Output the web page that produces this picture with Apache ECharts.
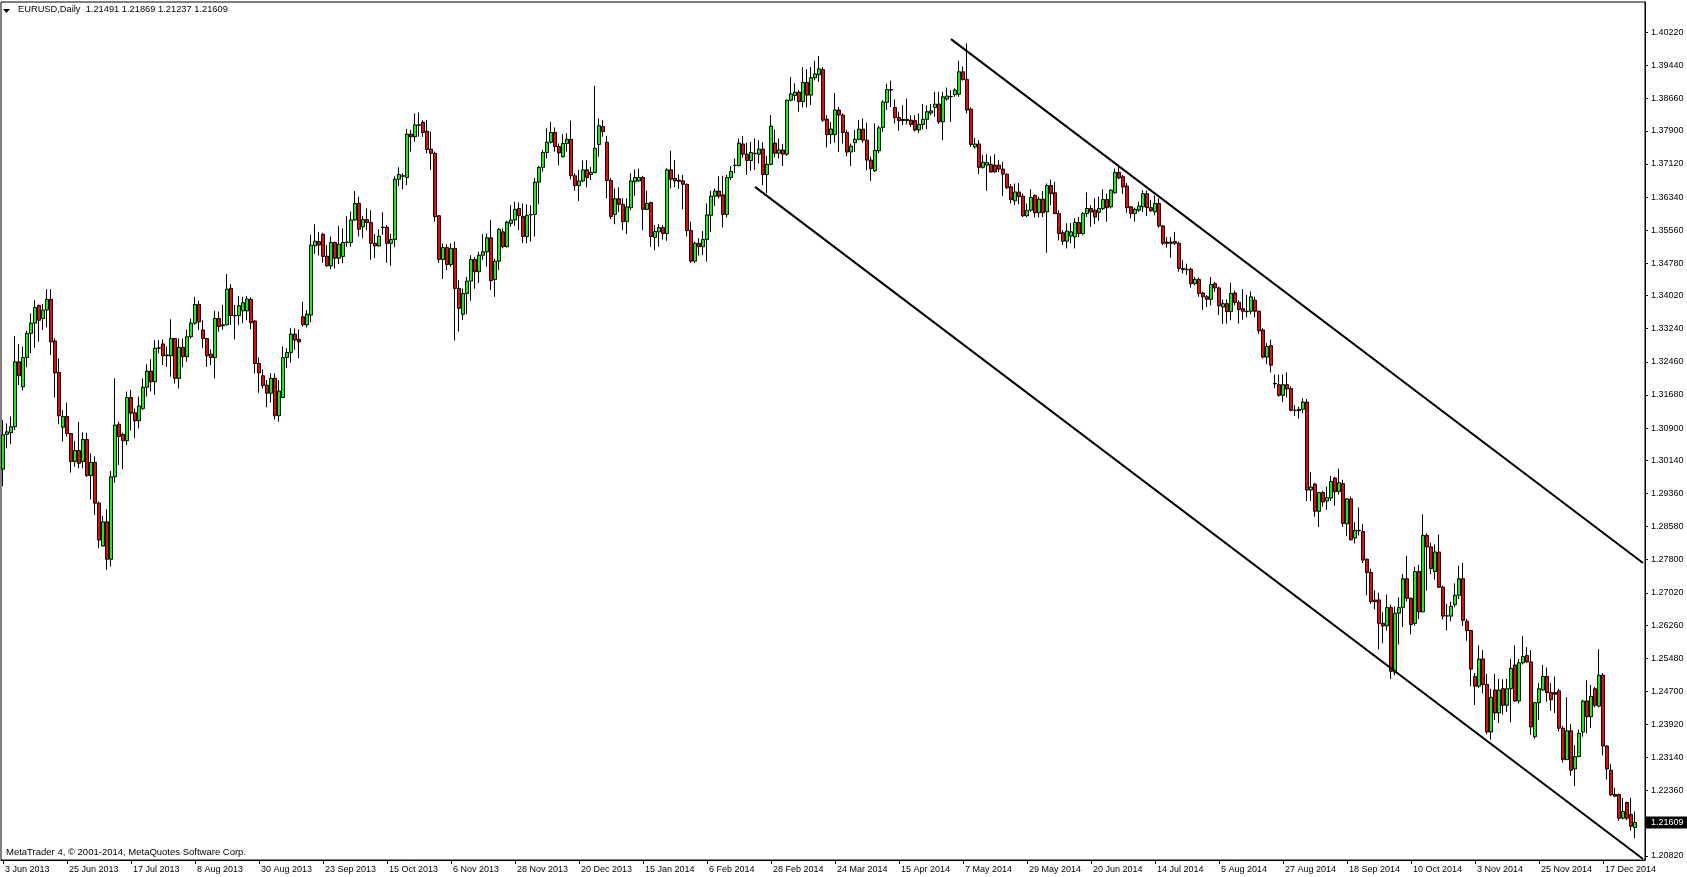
<!DOCTYPE html>
<html><head><meta charset="utf-8">
<script src="https://cdn.jsdelivr.net/npm/echarts@6/dist/echarts.min.js"></script>
<style>html,body{margin:0;padding:0;background:#fff;overflow:hidden}#c{width:1687px;height:877px}</style>
</head><body><div id="c"></div>
<script>
const symbolName = 'EURUSD,Daily';
const footerText = 'MetaTrader 4, \u00A9 2001-2014, MetaQuotes Software Corp.';
const xTickLabels = ['3 Jun 2013','25 Jun 2013','17 Jul 2013','8 Aug 2013','30 Aug 2013','23 Sep 2013','15 Oct 2013','6 Nov 2013','28 Nov 2013','20 Dec 2013','15 Jan 2014','6 Feb 2014','28 Feb 2014','24 Mar 2014','15 Apr 2014','7 May 2014','29 May 2014','20 Jun 2014','14 Jul 2014','5 Aug 2014','27 Aug 2014','18 Sep 2014','10 Oct 2014','3 Nov 2014','25 Nov 2014','17 Dec 2014'];
const barsPerLabel = 16;
const yTickValues = [1.40220,1.39440,1.38660,1.37900,1.37120,1.36340,1.35560,1.34780,1.34020,1.33240,1.32460,1.31680,1.30900,1.30140,1.29360,1.28580,1.27800,1.27020,1.26260,1.25480,1.24700,1.23920,1.23140,1.22360,1.20820];

const openP = [1.2993,1.3075,1.3079,1.3093,1.3246,1.3187,1.3256,1.3313,1.3337,1.3379,
1.3348,1.3368,1.3393,1.3295,1.3221,1.3092,1.3117,1.3077,1.3011,1.3037,
1.3011,1.3063,1.2978,1.3009,1.2913,1.2812,1.2869,1.2781,1.2975,1.3099,
1.3075,1.3060,1.3162,1.3126,1.3107,1.3136,1.3186,1.3224,1.3199,1.3278,
1.3288,1.3260,1.3260,1.3301,1.3207,1.3280,1.3258,1.3305,1.3337,1.3381,
1.3321,1.3301,1.3264,1.3256,1.3348,1.3331,1.3333,1.3419,1.3355,1.3355,
1.3366,1.3366,1.3393,1.3342,1.3242,1.3213,1.3191,1.3172,1.3207,1.3119,
1.3162,1.3256,1.3268,1.3311,1.3299,1.3352,1.3333,1.3356,1.3519,1.3529,
1.3546,1.3495,1.3472,1.3527,1.3490,1.3494,1.3527,1.3527,1.3580,1.3619,
1.3564,1.3581,1.3574,1.3525,1.3519,1.3562,1.3563,1.3525,1.3534,1.3676,
1.3684,1.3680,1.3782,1.3776,1.3804,1.3810,1.3789,1.3747,1.3737,1.3590,
1.3487,1.3515,1.3475,1.3513,1.3419,1.3358,1.3407,1.3436,1.3487,1.3458,
1.3497,1.3505,1.3538,1.3440,1.3483,1.3552,1.3517,1.3572,1.3580,1.3607,
1.3588,1.3541,1.3592,1.3593,1.3669,1.3704,1.3739,1.3763,1.3786,1.3753,
1.3729,1.3760,1.3770,1.3684,1.3661,1.3672,1.3698,1.3687,1.3692,1.3758,
1.3800,1.3763,1.3673,1.3593,1.3630,1.3617,1.3576,1.3609,1.3670,1.3672,
1.3680,1.3605,1.3621,1.3539,1.3552,1.3562,1.3548,1.3698,1.3678,1.3674,
1.3672,1.3664,1.3555,1.3483,1.3525,1.3517,1.3534,1.3591,1.3636,1.3648,
1.3639,1.3593,1.3680,1.3708,1.3708,1.3759,1.3735,1.3720,1.3737,1.3735,
1.3747,1.3687,1.3711,1.3761,1.3737,1.3745,1.3735,1.3862,1.3873,1.3881,
1.3859,1.3904,1.3874,1.3915,1.3922,1.3934,1.3817,1.3781,1.3781,1.3839,
1.3827,1.3786,1.3740,1.3762,1.3770,1.3794,1.3768,1.3721,1.3696,1.3743,
1.3798,1.3857,1.3887,1.3845,1.3821,1.3817,1.3817,1.3815,1.3814,1.3792,
1.3805,1.3817,1.3832,1.3845,1.3853,1.3811,1.3865,1.3871,1.3875,1.3876,
1.3929,1.3911,1.3841,1.3752,1.3759,1.3704,1.3709,1.3711,1.3709,1.3709,
1.3700,1.3688,1.3658,1.3625,1.3646,1.3636,1.3590,1.3603,1.3638,1.3597,
1.3629,1.3599,1.3661,1.3644,1.3595,1.3550,1.3530,1.3542,1.3540,1.3574,
1.3548,1.3595,1.3607,1.3603,1.3598,1.3607,1.3628,1.3611,1.3644,1.3692,
1.3682,1.3660,1.3611,1.3595,1.3603,1.3611,1.3642,1.3609,1.3599,1.3619,
1.3566,1.3528,1.3528,1.3529,1.3525,1.3466,1.3464,1.3464,1.3430,1.3440,
1.3408,1.3399,1.3393,1.3430,1.3420,1.3375,1.3383,1.3364,1.3408,1.3386,
1.3371,1.3365,1.3365,1.3391,1.3365,1.3321,1.3257,1.3284,1.3195,1.3192,
1.3167,1.3192,1.3183,1.3132,1.3131,1.3134,1.3151,1.2944,1.2958,1.2894,
1.2938,1.2918,1.2925,1.2972,1.2940,1.2959,1.2864,1.2923,1.2831,1.2849,
1.2846,1.2781,1.2750,1.2685,1.2685,1.2630,1.2624,1.2667,1.2515,1.2654,
1.2667,1.2735,1.2689,1.2630,1.2752,1.2657,1.2837,1.2810,1.2752,1.2798,
1.2715,1.2647,1.2647,1.2674,1.2696,1.2735,1.2635,1.2613,1.2505,1.2482,
1.2546,1.2486,1.2374,1.2473,1.2419,1.2476,1.2437,1.2476,1.2532,1.2447,
1.2537,1.2554,1.2539,1.2363,1.2443,1.2473,1.2505,1.2467,1.2467,1.2471,
1.2383,1.2309,1.2377,1.2287,1.2316,1.2374,1.2447,1.2410,1.2476,1.2435,
1.2508,1.2341,1.2284,1.2227,1.2227,1.2171,1.2208,1.2180,1.21491];

const highP = [1.3109,1.3101,1.3117,1.3307,1.3288,1.3282,1.3319,1.3360,1.3391,1.3380,
1.3382,1.3417,1.3417,1.3301,1.3254,1.3132,1.3150,1.3078,1.3060,1.3104,
1.3080,1.3079,1.3030,1.3023,1.2917,1.2883,1.2899,1.2989,1.3207,1.3105,
1.3079,1.3176,1.3180,1.3136,1.3164,1.3207,1.3240,1.3252,1.3297,1.3297,
1.3299,1.3282,1.3346,1.3302,1.3301,1.3301,1.3322,1.3348,1.3399,1.3390,
1.3344,1.3302,1.3275,1.3366,1.3364,1.3380,1.3453,1.3429,1.3380,1.3401,
1.3399,1.3401,1.3398,1.3344,1.3256,1.3228,1.3203,1.3219,1.3219,1.3203,
1.3282,1.3278,1.3325,1.3325,1.3322,1.3387,1.3368,1.3545,1.3570,1.3551,
1.3550,1.3521,1.3541,1.3529,1.3566,1.3560,1.3589,1.3600,1.3648,1.3635,
1.3589,1.3607,1.3603,1.3547,1.3558,1.3598,1.3568,1.3547,1.3683,1.3704,
1.3690,1.3794,1.3792,1.3831,1.3833,1.3815,1.3815,1.3788,1.3741,1.3592,
1.3525,1.3523,1.3525,1.3529,1.3438,1.3419,1.3446,1.3497,1.3493,1.3505,
1.3547,1.3548,1.3580,1.3489,1.3561,1.3560,1.3578,1.3615,1.3623,1.3621,
1.3619,1.3617,1.3615,1.3679,1.3707,1.3745,1.3796,1.3811,1.3798,1.3760,
1.3782,1.3784,1.3814,1.3690,1.3698,1.3720,1.3721,1.3705,1.3896,1.3819,
1.3815,1.3778,1.3679,1.3654,1.3657,1.3631,1.3631,1.3690,1.3699,1.3701,
1.3684,1.3649,1.3623,1.3568,1.3570,1.3568,1.3702,1.3743,1.3721,1.3688,
1.3686,1.3666,1.3576,1.3529,1.3537,1.3554,1.3619,1.3649,1.3654,1.3683,
1.3684,1.3686,1.3707,1.3725,1.3772,1.3778,1.3762,1.3764,1.3772,1.3768,
1.3763,1.3731,1.3827,1.3793,1.3772,1.3759,1.3864,1.3917,1.3902,1.3886,
1.3940,1.3935,1.3940,1.3955,1.3966,1.3940,1.3827,1.3811,1.3879,1.3846,
1.3831,1.3792,1.3760,1.3792,1.3815,1.3819,1.3809,1.3729,1.3807,1.3802,
1.3862,1.3901,1.3908,1.3864,1.3835,1.3850,1.3866,1.3827,1.3827,1.3831,
1.3853,1.3850,1.3853,1.3882,1.3882,1.3882,1.3892,1.3886,1.3890,1.3955,
1.3942,1.3996,1.3845,1.3773,1.3768,1.3733,1.3735,1.3730,1.3735,1.3721,
1.3717,1.3689,1.3664,1.3666,1.3667,1.3642,1.3619,1.3652,1.3640,1.3635,
1.3648,1.3666,1.3675,1.3670,1.3603,1.3556,1.3572,1.3573,1.3584,1.3587,
1.3599,1.3645,1.3615,1.3631,1.3635,1.3652,1.3642,1.3652,1.3701,1.3705,
1.3686,1.3667,1.3613,1.3609,1.3623,1.3650,1.3649,1.3627,1.3638,1.3631,
1.3568,1.3540,1.3540,1.3552,1.3529,1.3485,1.3477,1.3468,1.3446,1.3444,
1.3411,1.3403,1.3446,1.3434,1.3423,1.3393,1.3393,1.3432,1.3414,1.3391,
1.3417,1.3404,1.3412,1.3399,1.3366,1.3325,1.3290,1.3298,1.3216,1.3216,
1.3216,1.3221,1.3188,1.3144,1.3140,1.3160,1.3158,1.2986,1.2961,1.2940,
1.2942,1.2952,1.2977,1.2975,1.2994,1.2968,1.2925,1.2929,1.2868,1.2903,
1.2864,1.2783,1.2759,1.2708,1.2702,1.2656,1.2698,1.2674,1.2670,1.2691,
1.2746,1.2789,1.2691,1.2763,1.2768,1.2887,1.2842,1.2820,1.2816,1.2839,
1.2719,1.2676,1.2681,1.2724,1.2766,1.2772,1.2641,1.2615,1.2513,1.2578,
1.2567,1.2511,1.2476,1.2511,1.2499,1.2498,1.2499,1.2546,1.2578,1.2546,
1.2600,1.2574,1.2567,1.2445,1.2489,1.2532,1.2526,1.2489,1.2505,1.2476,
1.2389,1.2456,1.2393,1.2343,1.2380,1.2450,1.2496,1.2485,1.2480,1.2569,
1.2513,1.2343,1.2299,1.2243,1.2229,1.2219,1.2210,1.2219,1.21869];

const lowP = [1.2953,1.3042,1.3052,1.3085,1.3191,1.3178,1.3233,1.3266,1.3279,1.3293,
1.3321,1.3327,1.3262,1.3162,1.3099,1.3058,1.3070,1.2985,1.2999,1.2995,
1.2995,1.2975,1.2922,1.2885,1.2807,1.2811,1.2756,1.2764,1.2961,1.3003,
1.2993,1.3050,1.3084,1.3066,1.3089,1.3132,1.3164,1.3176,1.3168,1.3266,
1.3238,1.3234,1.3211,1.3195,1.3183,1.3233,1.3246,1.3301,1.3333,1.3321,
1.3278,1.3234,1.3238,1.3207,1.3317,1.3321,1.3332,1.3333,1.3299,1.3333,
1.3337,1.3344,1.3322,1.3219,1.3173,1.3183,1.3139,1.3150,1.3110,1.3105,
1.3161,1.3231,1.3244,1.3274,1.3254,1.3329,1.3327,1.3339,1.3500,1.3496,
1.3479,1.3470,1.3464,1.3466,1.3476,1.3478,1.3517,1.3517,1.3578,1.3541,
1.3537,1.3556,1.3486,1.3490,1.3517,1.3545,1.3479,1.3472,1.3516,1.3660,
1.3652,1.3662,1.3741,1.3764,1.3776,1.3776,1.3737,1.3698,1.3576,1.3479,
1.3441,1.3462,1.3470,1.3296,1.3317,1.3344,1.3358,1.3390,1.3418,1.3432,
1.3486,1.3470,1.3415,1.3399,1.3462,1.3513,1.3515,1.3564,1.3566,1.3556,
1.3526,1.3525,1.3529,1.3541,1.3617,1.3694,1.3725,1.3760,1.3741,1.3709,
1.3727,1.3741,1.3676,1.3649,1.3625,1.3669,1.3657,1.3674,1.3690,1.3729,
1.3776,1.3631,1.3582,1.3570,1.3599,1.3556,1.3547,1.3603,1.3637,1.3670,
1.3556,1.3603,1.3517,1.3509,1.3517,1.3534,1.3531,1.3654,1.3657,1.3653,
1.3605,1.3541,1.3479,1.3478,1.3496,1.3497,1.3482,1.3552,1.3613,1.3631,
1.3562,1.3586,1.3674,1.3690,1.3706,1.3727,1.3686,1.3696,1.3698,1.3713,
1.3662,1.3643,1.3709,1.3727,1.3725,1.3707,1.3731,1.3859,1.3861,1.3835,
1.3845,1.3845,1.3851,1.3909,1.3905,1.3811,1.3751,1.3760,1.3762,1.3740,
1.3760,1.3730,1.3707,1.3740,1.3768,1.3762,1.3697,1.3672,1.3693,1.3737,
1.3788,1.3839,1.3846,1.3807,1.3790,1.3803,1.3805,1.3799,1.3788,1.3785,
1.3793,1.3794,1.3827,1.3823,1.3806,1.3768,1.3861,1.3811,1.3870,1.3870,
1.3908,1.3831,1.3752,1.3748,1.3688,1.3701,1.3649,1.3692,1.3692,1.3693,
1.3636,1.3653,1.3619,1.3615,1.3617,1.3587,1.3587,1.3599,1.3586,1.3586,
1.3587,1.3503,1.3615,1.3594,1.3532,1.3521,1.3513,1.3525,1.3513,1.3539,
1.3544,1.3587,1.3564,1.3570,1.3578,1.3603,1.3576,1.3607,1.3641,1.3676,
1.3641,1.3597,1.3584,1.3576,1.3599,1.3599,1.3589,1.3599,1.3591,1.3562,
1.3521,1.3515,1.3491,1.3521,1.3458,1.3454,1.3450,1.3421,1.3426,1.3399,
1.3368,1.3375,1.3379,1.3411,1.3356,1.3335,1.3336,1.3344,1.3379,1.3336,
1.3345,1.3351,1.3358,1.3351,1.3312,1.3254,1.3240,1.3221,1.3184,1.3164,
1.3151,1.3162,1.3129,1.3118,1.3112,1.3125,1.2918,1.2918,1.2881,1.2857,
1.2905,1.2897,1.2918,1.2907,1.2933,1.2857,1.2836,1.2825,1.2818,1.2837,
1.2772,1.2696,1.2676,1.2663,1.2569,1.2583,1.2613,1.2499,1.2508,1.2580,
1.2621,1.2681,1.2604,1.2624,1.2640,1.2656,1.2707,1.2746,1.2733,1.2714,
1.2639,1.2613,1.2635,1.2668,1.2687,1.2624,1.2589,1.2482,1.2438,1.2478,
1.2465,1.2369,1.2356,1.2402,1.2395,1.2415,1.2421,1.2397,1.2445,1.2441,
1.2533,1.2537,1.2367,1.2358,1.2402,1.2471,1.2445,1.2424,1.2419,1.2376,
1.2302,1.2308,1.2271,1.2247,1.2315,1.2363,1.2371,1.2384,1.2432,1.2432,
1.2319,1.2262,1.2223,1.2221,1.2165,1.2168,1.2166,1.2142,1.21237];

const closeP = [1.3074,1.3081,1.3093,1.3246,1.3213,1.3256,1.3313,1.3337,1.3374,1.3344,
1.3368,1.3393,1.3293,1.3220,1.3119,1.3117,1.3077,1.3011,1.3037,1.3007,
1.3063,1.2978,1.3009,1.2913,1.2826,1.2869,1.2781,1.2975,1.3097,1.3070,
1.3060,1.3162,1.3125,1.3107,1.3142,1.3186,1.3224,1.3199,1.3278,1.3279,
1.3260,1.3262,1.3301,1.3207,1.3280,1.3258,1.3305,1.3337,1.3381,1.3340,
1.3301,1.3260,1.3256,1.3348,1.3329,1.3333,1.3417,1.3355,1.3354,1.3378,
1.3385,1.3394,1.3338,1.3242,1.3220,1.3190,1.3172,1.3207,1.3119,1.3177,
1.3256,1.3268,1.3311,1.3297,1.3293,1.3333,1.3358,1.3521,1.3530,1.3521,
1.3494,1.3472,1.3527,1.3490,1.3523,1.3527,1.3528,1.3580,1.3619,1.3558,
1.3581,1.3574,1.3525,1.3519,1.3542,1.3563,1.3525,1.3534,1.3676,1.3687,
1.3683,1.3782,1.3776,1.3804,1.3803,1.3786,1.3746,1.3737,1.3588,1.3487,
1.3515,1.3475,1.3513,1.3419,1.3372,1.3407,1.3436,1.3487,1.3458,1.3497,
1.3505,1.3538,1.3437,1.3483,1.3558,1.3517,1.3575,1.3580,1.3605,1.3590,
1.3541,1.3591,1.3593,1.3669,1.3704,1.3739,1.3763,1.3786,1.3753,1.3738,
1.3760,1.3770,1.3684,1.3661,1.3672,1.3698,1.3680,1.3692,1.3749,1.3802,
1.3788,1.3673,1.3588,1.3630,1.3617,1.3576,1.3611,1.3672,1.3680,1.3680,
1.3605,1.3619,1.3541,1.3553,1.3562,1.3548,1.3698,1.3676,1.3672,1.3671,
1.3664,1.3555,1.3483,1.3525,1.3517,1.3534,1.3592,1.3636,1.3648,1.3636,
1.3593,1.3680,1.3694,1.3709,1.3761,1.3735,1.3720,1.3739,1.3736,1.3747,
1.3687,1.3711,1.3801,1.3737,1.3745,1.3735,1.3862,1.3877,1.3881,1.3859,
1.3904,1.3874,1.3915,1.3924,1.3936,1.3815,1.3781,1.3794,1.3839,1.3827,
1.3786,1.3740,1.3754,1.3770,1.3794,1.3768,1.3721,1.3701,1.3744,1.3797,
1.3858,1.3887,1.3886,1.3821,1.3814,1.3814,1.3814,1.3805,1.3792,1.3805,
1.3817,1.3835,1.3837,1.3853,1.3811,1.3870,1.3872,1.3870,1.3886,1.3929,
1.3911,1.3839,1.3758,1.3759,1.3704,1.3716,1.3715,1.3693,1.3693,1.3700,
1.3688,1.3656,1.3628,1.3646,1.3635,1.3590,1.3603,1.3633,1.3597,1.3629,
1.3597,1.3661,1.3642,1.3595,1.3548,1.3530,1.3554,1.3552,1.3574,1.3548,
1.3595,1.3607,1.3599,1.3587,1.3607,1.3628,1.3609,1.3650,1.3692,1.3679,
1.3658,1.3609,1.3595,1.3605,1.3613,1.3642,1.3609,1.3602,1.3619,1.3566,
1.3525,1.3525,1.3525,1.3525,1.3466,1.3463,1.3463,1.3430,1.3440,1.3407,
1.3399,1.3393,1.3428,1.3420,1.3378,1.3383,1.3364,1.3407,1.3386,1.3369,
1.3365,1.3364,1.3399,1.3365,1.3319,1.3257,1.3282,1.3238,1.3194,1.3167,
1.3192,1.3182,1.3132,1.3131,1.3134,1.3151,1.2944,1.2951,1.2894,1.2938,
1.2916,1.2926,1.2964,1.2940,1.2961,1.2865,1.2923,1.2827,1.2849,1.2848,
1.2779,1.2750,1.2681,1.2681,1.2630,1.2624,1.2667,1.2517,1.2654,1.2667,
1.2735,1.2689,1.2627,1.2752,1.2657,1.2837,1.2810,1.2759,1.2798,1.2715,
1.2647,1.2648,1.2670,1.2696,1.2735,1.2637,1.2613,1.2522,1.2482,1.2546,
1.2486,1.2374,1.2456,1.2419,1.2473,1.2437,1.2476,1.2524,1.2447,1.2537,
1.2552,1.2539,1.2386,1.2443,1.2476,1.2505,1.2467,1.2450,1.2463,1.2383,
1.2309,1.2377,1.2284,1.2316,1.2371,1.2447,1.2410,1.2458,1.2437,1.2508,
1.2341,1.2287,1.2226,1.2223,1.2171,1.2187,1.2171,1.2152,1.21609];

// channel trend lines: [bar index, price]
const upperChannel = [[237, 1.4006], [410, 1.2772]];
const lowerChannel = [[188, 1.3658], [410, 1.2075]];

const emptyBarsRight = 2;
const last = closeP.length - 1;
const lastClose = closeP[last];
const nCats = closeP.length + emptyBarsRight;
const categories = [];
for (let i = 0; i < nCats; i++) {
  const k = i / barsPerLabel;
  categories.push(Number.isInteger(k) && xTickLabels[k] ? xTickLabels[k] : '');
}
const candles = openP.map((o, i) => [o, closeP[i], lowP[i], highP[i]]);
const yValues = yTickValues.concat([lastClose]).sort((a, b) => b - a);
const FONT = '"Liberation Sans", Arial, sans-serif';
const headerText = symbolName + '  ' + [openP[last], highP[last], lowP[last], closeP[last]].map(v => v.toFixed(5)).join(' ');

const chart = echarts.init(document.getElementById('c'), null, {renderer: 'canvas'});
chart.setOption({
  animation: false,
  backgroundColor: '#ffffff',
  grid: {left: 1, right: 42, top: 2, bottom: 17, show: true, borderColor: '#000', borderWidth: 1, containLabel: false, outerBoundsMode: 'none'},
  xAxis: {
    type: 'category', data: categories, boundaryGap: true,
    axisLine: {show: true, lineStyle: {color: '#000', width: 1}},
    axisTick: {show: true, interval: barsPerLabel - 1, alignWithLabel: true, length: 4, lineStyle: {color: '#000'}},
    axisLabel: {interval: barsPerLabel - 1, align: 'left', margin: 5, fontSize: 9, fontFamily: FONT, color: '#000', padding: [0, 0, 0, 2], hideOverlap: false},
    splitLine: {show: false}
  },
  yAxis: {
    type: 'value', position: 'right', min: 1.207259, max: 1.409336,
    splitLine: {show: false},
    axisLine: {show: true, lineStyle: {color: '#000', width: 1}},
    axisTick: {show: true, length: 3, lineStyle: {color: '#000'}, customValues: yTickValues},
    axisLabel: {
      customValues: yValues, margin: 1, hideOverlap: false,
      formatter: v => (Math.abs(v - lastClose) < 1e-9 ? '{cur|' : '{n|') + Number(v).toFixed(5) + '}',
      rich: {
        n: {fontSize: 9, fontFamily: FONT, color: '#000', padding: [0, 0, 0, 5]},
        cur: {fontSize: 9, fontFamily: FONT, color: '#fff', backgroundColor: '#000', padding: [2, 8, 1, 5], lineHeight: 9}
      }
    }
  },
  series: [
    {
      type: 'candlestick', data: candles, barWidth: 3,
      itemStyle: {color: '#00ff00', color0: '#ff0000', borderColor: '#000', borderColor0: '#000', borderColorDoji: '#000', borderWidth: 1}
    },
    {type: 'line', data: upperChannel, symbol: 'none', silent: true, lineStyle: {color: '#000', width: 2}},
    {type: 'line', data: lowerChannel, symbol: 'none', silent: true, lineStyle: {color: '#000', width: 2}}
  ],
  graphic: [
    {type: 'polygon', shape: {points: [[3, 9], [10, 9], [6.5, 13]]}, style: {fill: '#000'}},
    {type: 'text', left: 18, top: 5, style: {text: headerText, font: '9.3px ' + FONT, fill: '#000'}},
    {type: 'text', left: 6, top: 847, style: {text: footerText, font: '9.5px ' + FONT, fill: '#000'}}
  ]
});
</script>
</body></html>
